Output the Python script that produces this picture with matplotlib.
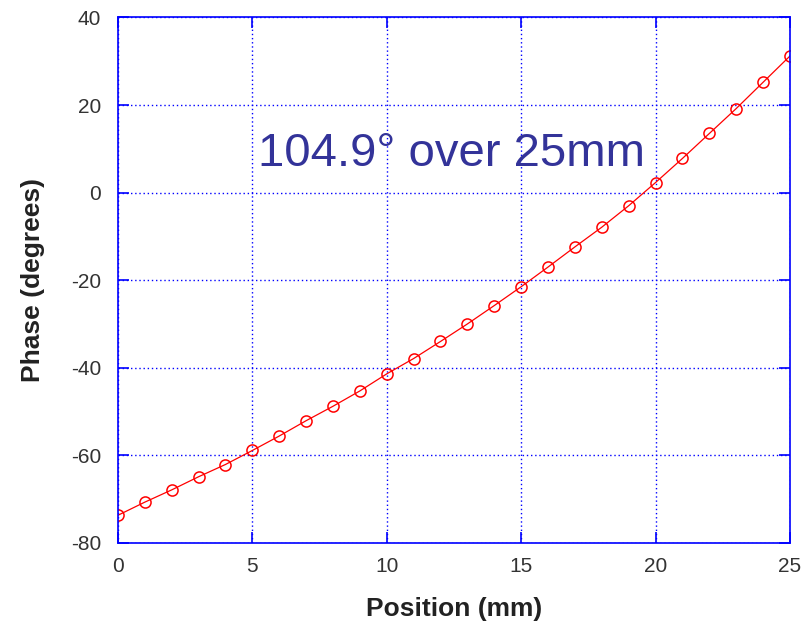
import matplotlib
matplotlib.use("Agg")
import matplotlib.pyplot as plt

position = list(range(26))
phase = [-73.7, -70.7, -67.9, -64.9, -62.1, -58.9, -55.6, -52.1, -48.8, -45.3,
         -41.4, -37.9, -34.0, -30.0, -25.8, -21.5, -17.0, -12.4, -7.9, -3.0,
         2.3, 7.8, 13.5, 19.2, 25.2, 31.2]
x_ticks = [0, 5, 10, 15, 20, 25]
y_ticks = [-80, -60, -40, -20, 0, 20, 40]
note = "104.9° over 25mm"

plt.rcParams['font.family'] = ['Liberation Sans', 'DejaVu Sans']
plt.rcParams['axes.unicode_minus'] = False

fig = plt.figure(figsize=(8.02, 6.24), dpi=100)
ax = fig.add_axes([0.147, 0.13, 0.838, 0.842])

ax.plot(position, phase, color='red', linewidth=0.9, marker='o', markersize=8,
        markerfacecolor='none', markeredgecolor='red', markeredgewidth=1.1)

ax.set_xlim(0, 25)
ax.set_ylim(-80, 40)
ax.set_xticks(x_ticks)
ax.set_yticks(y_ticks)
ax.grid(True, color='blue', linestyle=(0, (1, 2)), linewidth=1)
for s in ax.spines.values():
    s.set_color('blue')
    s.set_linewidth(1.2)
ax.tick_params(direction='in', length=8, width=1.2, color='blue',
               top=True, right=True, labelsize=15, labelcolor='#333333')
ax.tick_params(axis='y', pad=12)
ax.tick_params(axis='x', pad=10)

ax.set_xlabel("Position (mm)", fontsize=19, fontweight='bold', color='#222222',
              labelpad=15)
ax.set_ylabel("Phase (degrees)", fontsize=19, fontweight='bold', color='#222222',
              labelpad=19)

ax.text(0.496, 0.741, note, transform=ax.transAxes, ha='center', va='center',
        fontsize=34, color='#333399')

fig.savefig("out.png", dpi=100)
